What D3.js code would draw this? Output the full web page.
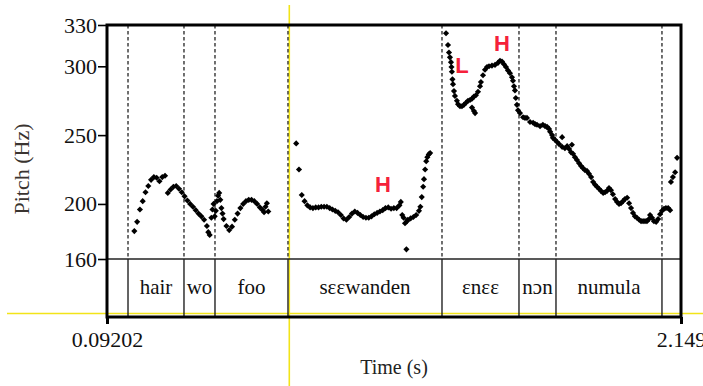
<!DOCTYPE html>
<html>
<head>
<meta charset="utf-8">
<script src="https://cdn.jsdelivr.net/npm/d3@7"></script>
<style>
  body { margin: 0; background: #fff; }
  svg { display: block; }
</style>
</head>
<body>
<script>
// ---------- DATA ----------
const timeDomain = [0.09202, 2.149];
const pitchDomain = [160, 330];
const yTicks = [160, 200, 250, 300, 330];
const xTickValues = [0.09202, 2.149];
const xTickLabels = ["0.09202", "2.149"];

// word boundaries (s)
const boundaries = [0.1673, 0.3679, 0.4790, 0.7406, 1.2925, 1.5684, 1.7010, 2.0808];
// word labels: [start, end, text]
const words = [
  [0.1673, 0.3679, "hair"],
  [0.3679, 0.4790, "wo"],
  [0.4790, 0.7406, "foo"],
  [0.7406, 1.2925, "sɛɛwanden"],
  [1.2925, 1.5684, "ɛnɛɛ"],
  [1.5684, 1.7010, "nɔn"],
  [1.7010, 2.0808, "numula"]
];
// tone labels: [time, Hz (baseline), text]
const tones = [
  [1.081, 208.7, "H"],
  [1.364, 295.1, "L"],
  [1.5075, 311.1, "H"]
];

// pitch track: [time (s), F0 (Hz)]
const pitchPoints = [
  [0.19,180.3],[0.20,187],[0.21,196],[0.22,202],[0.23,208.5],[0.24,213],[0.25,217.5],[0.26,219.5],
  [0.27,219],[0.28,216.5],[0.29,219.5],[0.30,220.5],[0.31,208],[0.32,210.5],[0.33,212.5],[0.34,213],
  [0.35,211],[0.36,208.5],[0.37,205.5],[0.38,202.5],[0.39,200],[0.40,198],[0.41,195.5],[0.42,193],
  [0.43,191],[0.44,188.5],[0.45,184],[0.455,179.5],[0.46,177.5],
  [0.466,190],[0.47,196],[0.474,200],[0.478,191],[0.482,195],[0.486,202],[0.49,206],[0.494,208],
  [0.498,203],[0.502,197],[0.506,193],[0.51,189],[0.52,184],[0.53,181],[0.54,183.5],[0.55,188.5],
  [0.56,193],[0.57,197],[0.58,200],[0.59,202],[0.60,203],[0.61,203],[0.62,202],[0.63,200],
  [0.64,197.5],[0.65,195.5],[0.655,194],[0.66,198],[0.665,200.5],[0.67,194.5],
  [0.77,244],[0.78,225],[0.79,206.5],[0.80,202],[0.81,199],[0.82,197.5],[0.83,197],[0.84,197.5],
  [0.85,197.5],[0.86,198],[0.87,198],[0.88,198],[0.89,197],[0.90,196],[0.91,195],[0.92,194],
  [0.93,192],[0.94,189.5],[0.95,188.5],[0.96,190.5],[0.97,193],[0.98,194.5],[0.99,193.5],[1.00,192],
  [1.01,190.5],[1.02,190],[1.03,190],[1.04,191],[1.05,192.5],[1.06,193.5],[1.07,194.5],[1.08,195.5],
  [1.09,197],[1.10,197.5],[1.11,196.5],[1.12,197],[1.13,197],[1.14,199],[1.145,201.5],[1.15,192],
  [1.155,190],[1.16,186],[1.165,167],[1.167,187.5],[1.17,188.5],[1.18,189.5],[1.19,190.5],[1.20,192],
  [1.21,195],[1.215,198],[1.22,205],[1.225,212.5],[1.228,218],[1.232,225],[1.236,231],[1.24,234],
  [1.245,236],[1.25,237],
  [1.307,324],[1.314,315.5],[1.3176,310],[1.321,306.5],[1.3247,303],[1.3265,299.5],[1.328,296],
  [1.330,290.5],[1.332,287],[1.3355,282],[1.339,278.5],[1.346,275],[1.35,272.5],[1.357,271],
  [1.364,271],[1.371,272],[1.3785,273.5],[1.3857,275],[1.393,275.5],[1.400,276.5],[1.407,278],
  [1.414,279],[1.4215,281.5],[1.4287,285.5],[1.432,288.5],[1.4394,293.5],[1.4466,297.5],[1.4537,299.5],
  [1.461,300],[1.4716,300.5],[1.4824,301],[1.4931,302.5],[1.5003,304],[1.5075,303.5],[1.5146,301.5],
  [1.5218,299.5],[1.529,297],[1.5361,295],[1.5433,292],[1.5469,289.5],[1.5505,285.5],[1.554,282.5],
  [1.400,270],[1.407,267.5],[1.411,266],
  [1.557,277],[1.561,272],[1.565,268],[1.572,266],[1.583,263],[1.590,262.5],[1.597,262.5],[1.608,259.5],
  [1.619,259],[1.626,258],[1.633,257.5],[1.644,256.5],[1.654,257.5],[1.662,256.5],[1.669,256],
  [1.676,254.5],[1.680,252.5],[1.687,250],[1.690,248],[1.698,246.5],[1.705,245],[1.712,243.5],
  [1.723,248.5],[1.723,241.5],[1.733,240.5],[1.741,242],[1.748,240],[1.755,237.5],[1.758,243],
  [1.762,236.5],[1.769,234],[1.776,232],[1.784,229.5],[1.791,227.5],[1.798,226],[1.805,224.5],
  [1.812,224],[1.819,222],[1.827,219.5],[1.834,216],[1.841,214],[1.848,212.5],[1.855,211],
  [1.862,209.5],[1.870,208],[1.877,208.5],[1.884,209.5],[1.891,211.5],[1.898,210],[1.905,207],
  [1.913,203.5],[1.920,201.5],[1.927,200],[1.934,200.5],[1.941,202],[1.948,203.5],[1.956,204.5],
  [1.963,200.5],[1.970,197],[1.977,193.5],[1.984,191],[1.991,190],[1.999,188.5],[2.006,187.5],
  [2.013,187.5],[2.020,187.5],[2.027,187.5],[2.034,189],[2.038,192],[2.045,190],[2.052,187.5],
  [2.060,187],[2.067,189],[2.074,192.5],[2.081,195],[2.088,196.5],[2.095,197],[2.103,197],[2.110,195.5],
  [2.113,216],[2.120,219.5],[2.128,223],[2.135,233.5]
];

// ---------- LAYOUT ----------
const W = 703, H = 386;
const plotLeft = 107, plotRight = 681, plotTop = 25, pitchBottom = 259, tierBottom = 317;

const svg = d3.select("body").append("svg").attr("width", W).attr("height", H);
svg.append("rect").attr("width", W).attr("height", H).attr("fill", "#fff");

const x = d3.scaleLinear().domain(timeDomain).range([plotLeft, plotRight]);
const y = d3.scaleLinear().domain(pitchDomain).range([pitchBottom, plotTop]);

const serif = "'Liberation Serif', 'Times New Roman', serif";

// yellow guide lines (behind)
svg.append("line").attr("x1", 7).attr("x2", W).attr("y1", 313.5).attr("y2", 313.5)
  .attr("stroke", "#f2e418").attr("stroke-width", 1.6);
svg.append("line").attr("x1", 289.3).attr("x2", 289.3).attr("y1", 5).attr("y2", H)
  .attr("stroke", "#f2e418").attr("stroke-width", 1.6);

// dashed boundaries in pitch area
svg.append("g").selectAll("line").data(boundaries).join("line")
  .attr("x1", d => x(d)).attr("x2", d => x(d))
  .attr("y1", plotTop).attr("y2", pitchBottom)
  .attr("stroke", "#111").attr("stroke-width", 1.2).attr("stroke-dasharray", "3.5,2.5");

// solid boundaries in tier
svg.append("g").selectAll("line").data(boundaries).join("line")
  .attr("x1", d => x(d)).attr("x2", d => x(d))
  .attr("y1", pitchBottom).attr("y2", tierBottom)
  .attr("stroke", "#111").attr("stroke-width", 1.3);

// separator line
svg.append("line").attr("x1", plotLeft).attr("x2", plotRight).attr("y1", pitchBottom).attr("y2", pitchBottom)
  .attr("stroke", "#222").attr("stroke-width", 1.3);

// word labels
svg.append("g").selectAll("text").data(words).join("text")
  .attr("x", d => x((d[0] + d[1]) / 2)).attr("y", 294)
  .attr("text-anchor", "middle").attr("font-family", serif).attr("font-size", 21)
  .attr("fill", "#111").text(d => d[2]);

// pitch points
const diamond = d3.symbol().type(d3.symbolDiamond2).size(24);
svg.append("g").selectAll("path").data(pitchPoints).join("path")
  .attr("transform", d => `translate(${x(d[0])},${y(d[1])})`)
  .attr("d", diamond).attr("fill", "#000");

// tone labels
svg.append("g").selectAll("text").data(tones).join("text")
  .attr("x", d => x(d[0])).attr("y", d => y(d[1]))
  .attr("text-anchor", "middle").attr("font-family", "'Liberation Sans', Arial, sans-serif")
  .attr("font-weight", "bold").attr("font-size", 22).attr("fill", "#f5213a").text(d => d[2]);

// frame
svg.append("rect").attr("x", plotLeft).attr("y", plotTop).attr("width", plotRight - plotLeft).attr("height", tierBottom - plotTop)
  .attr("fill", "none").attr("stroke", "#000").attr("stroke-width", 3);

// y axis
const yAxis = svg.append("g").attr("transform", `translate(${plotLeft},0)`)
  .call(d3.axisLeft(y).tickValues(yTicks).tickSize(9).tickPadding(1).tickFormat(d3.format("d")));
yAxis.select(".domain").remove();
yAxis.selectAll("line").attr("stroke", "#000").attr("stroke-width", 1.6);
yAxis.selectAll("text").attr("font-family", serif).attr("font-size", 22).attr("fill", "#111");

// x axis
const xAxis = svg.append("g").attr("transform", `translate(0,${tierBottom})`)
  .call(d3.axisBottom(x).tickValues(xTickValues).tickSize(7).tickPadding(7)
    .tickFormat((d, i) => xTickLabels[i]));
xAxis.select(".domain").remove();
xAxis.selectAll("line").attr("stroke", "#000").attr("stroke-width", 3);
xAxis.selectAll("text").attr("font-family", serif).attr("font-size", 22).attr("fill", "#111");

// axis titles
svg.append("text").attr("x", 394).attr("y", 374).attr("text-anchor", "middle")
  .attr("font-family", serif).attr("font-size", 20).attr("fill", "#222").text("Time (s)");
svg.append("text").attr("transform", "translate(29,169) rotate(-90)").attr("text-anchor", "middle")
  .attr("font-family", serif).attr("font-size", 22).attr("fill", "#3a3430").text("Pitch (Hz)");
</script>
</body>
</html>
